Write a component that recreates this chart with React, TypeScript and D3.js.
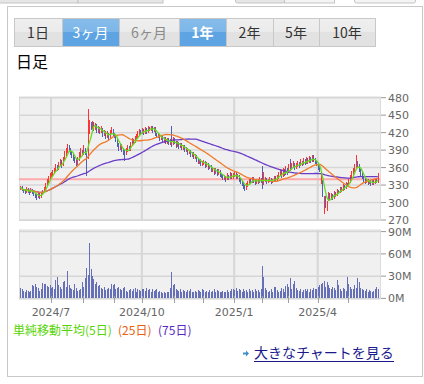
import React from 'react';
import * as d3 from 'd3';

const closes = [
  326,322,320,318,323,320,318,322,317,315,
  312,309,314,310,316,318,324,330,336,342,
  346,348,352,356,362,358,366,370,364,374,
  382,388,396,392,386,380,376,372,368,374,
  382,388,384,392,386,376,420,434,430,436,
  428,432,424,428,422,426,418,420,414,418,
  412,420,424,418,414,408,400,394,398,392,
  386,384,390,394,392,400,406,404,410,414,
  418,422,420,424,420,426,422,428,426,430,
  424,428,418,414,416,410,412,406,410,404,
  408,402,406,400,408,404,398,402,396,400,
  394,396,390,392,386,388,382,384,378,380,
  374,370,372,366,368,370,364,366,360,362,
  356,358,352,356,350,354,348,346,342,344,
  340,346,342,348,344,346,350,344,346,340,
  336,332,328,324,330,334,338,336,340,338,
  334,338,336,340,338,336,338,340,336,338,
  340,336,338,342,340,344,348,352,346,354,
  350,356,352,360,358,362,366,360,364,368,
  364,370,366,372,368,374,370,376,372,378,
  374,370,366,360,356,342,314,306,294,298,
  314,308,312,308,316,314,320,318,324,322,
  328,326,332,330,336,344,350,356,362,368,
  364,356,350,344,340,336,338,334,336,332,
  336,334,338,336,346,
];

const opens = [
  324,326,322,320,318,323,320,318,322,317,
  315,312,309,314,310,316,318,324,330,336,
  342,346,348,352,356,362,358,366,370,364,
  374,382,388,396,392,386,380,376,372,368,
  374,382,388,384,392,386,378,422,434,430,
  436,428,432,424,428,422,426,418,420,414,
  418,412,420,424,418,414,408,400,394,398,
  392,386,384,390,394,392,400,406,404,410,
  414,418,422,420,424,420,426,422,428,426,
  430,424,428,418,414,416,410,412,406,410,
  404,408,402,406,400,408,404,398,402,396,
  400,394,396,390,392,386,388,382,384,378,
  380,374,370,372,366,368,370,364,366,360,
  362,356,358,352,356,350,354,348,346,342,
  344,340,346,342,348,344,346,350,344,346,
  340,336,332,328,324,330,334,338,336,340,
  338,334,338,336,340,344,336,338,340,336,
  338,340,336,338,342,340,344,348,352,346,
  354,350,356,352,360,358,362,366,360,364,
  368,364,370,366,372,368,374,370,376,372,
  378,374,370,366,360,338,336,290,308,292,
  306,314,308,312,308,316,314,320,318,324,
  322,328,326,332,330,336,344,350,356,362,
  368,364,356,350,344,340,336,338,334,336,
  332,336,334,338,336,
];

const highs = [
  329,328,324,322,326,325,322,325,324,319,
  317,314,316,316,318,321,327,333,340,346,
  350,353,356,360,366,365,370,375,373,378,
  388,394,401,399,394,389,384,378,375,378,
  386,394,391,398,394,388,460,442,438,440,
  438,436,434,432,430,431,428,424,422,422,
  420,425,429,426,420,416,410,403,402,400,
  394,390,394,398,397,404,410,409,414,418,
  422,426,425,428,426,430,428,431,430,432,
  432,430,429,420,419,418,415,414,413,412,
  411,410,409,432,412,410,406,405,404,403,
  402,399,398,395,394,391,390,387,386,383,
  382,376,375,374,371,373,372,369,368,365,
  364,361,360,359,358,357,356,351,348,347,
  346,350,348,352,350,350,354,352,349,348,
  342,338,334,330,333,337,341,341,343,343,
  340,341,341,343,342,362,352,343,342,341,
  343,342,341,346,345,348,352,358,355,360,
  357,362,359,366,375,368,372,368,368,372,
  370,374,372,376,374,378,376,380,378,382,
  382,377,372,368,362,350,338,312,312,302,
  318,316,316,314,319,318,323,322,327,326,
  331,330,335,334,340,348,354,360,366,382,
  371,366,358,352,346,342,341,340,339,338,
  339,338,341,340,350,
];

const lows = [
  321,319,316,315,316,317,313,316,314,311,
  308,305,307,306,308,313,316,322,328,334,
  339,343,345,349,353,354,356,362,360,362,
  371,379,385,388,382,376,372,368,362,365,
  371,379,380,381,382,346,374,418,424,427,
  423,424,419,420,417,419,413,414,409,411,
  408,410,417,414,410,404,395,389,390,387,
  381,372,381,386,388,389,397,400,402,407,
  411,415,416,417,416,418,418,420,422,423,
  420,421,414,410,411,406,407,402,403,400,
  401,398,399,396,398,400,394,395,392,393,
  390,391,386,387,382,383,378,379,374,375,
  370,366,367,362,363,365,360,361,356,357,
  352,353,348,349,346,347,344,342,338,339,
  336,338,338,340,340,341,343,340,341,336,
  332,328,324,320,322,327,331,332,333,334,
  330,331,332,333,334,324,330,335,332,333,
  335,332,333,335,336,337,341,345,342,344,
  346,348,348,350,354,355,359,356,357,361,
  360,362,362,364,364,366,366,368,368,370,
  370,366,362,356,352,332,310,280,290,286,
  302,304,305,304,306,310,312,314,316,318,
  320,322,324,326,328,334,341,347,353,359,
  360,352,346,340,336,332,333,330,331,329,
  330,330,331,333,334,
];

const volumes = [
  14,12,10,9,11,10,9,10,18,17,
  20,16,14,10,12,21,19,20,17,16,
  18,14,15,13,25,29,18,15,13,22,
  24,16,37,18,14,12,11,20,14,10,
  11,12,22,16,27,41,32,75,40,30,
  26,20,22,17,18,14,12,16,11,13,
  14,12,20,18,19,13,14,16,12,11,
  14,15,10,9,11,13,10,12,14,9,
  12,11,10,13,12,10,14,11,13,9,
  12,10,11,12,9,10,8,7,8,7,
  8,9,14,35,18,20,12,11,10,12,
  9,11,10,9,11,10,12,9,8,10,
  9,11,10,8,12,11,9,10,8,11,
  9,10,12,9,11,10,8,9,10,8,
  9,11,8,10,12,13,11,14,10,12,
  11,9,13,10,11,9,12,10,11,9,
  12,10,11,9,12,44,29,14,11,9,
  10,12,8,16,15,11,9,10,14,12,
  9,17,20,15,27,13,20,23,14,11,
  10,12,9,11,13,10,12,9,13,11,
  14,12,13,15,18,20,21,23,16,22,
  18,14,12,16,14,11,25,18,12,10,
  14,12,10,29,20,16,12,13,18,14,
  28,22,14,12,11,10,12,9,11,10,
  8,10,12,15,13,
];

const priceTicks = [270, 300, 330, 360, 390, 420, 450, 480];
const volTicks = [0, 30, 60, 90];
const volTickLabels = ['0M', '30M', '60M', '90M'];
const monthTickIdx = [21, 43, 64, 83, 105, 125, 146, 165, 183, 203, 224];
const quarterIdx = [21, 83, 146, 203];
const quarterLabels = ['2024/7', '2024/10', '2025/1', '2025/4'];
const refPrice = 340;
const maPeriods = [75, 25, 5];
const maColors = ['#6a3cc8', '#f07a2a', '#62dc1e'];
const tabLabels = ['1日', '3ヶ月', '6ヶ月', '1年', '2年', '5年', '10年'];
const tabState = ['normal', 'blue', 'disabled', 'active', 'normal', 'normal', 'normal'];
const tabEdges = [14, 62, 119, 179, 226, 273, 319, 375];

function sma(vals: number[], n: number): number[] {
  return vals.map((_, i) => {
    const s = Math.max(0, i - n + 1);
    return d3.mean(vals.slice(s, i + 1)) as number;
  });
}

const FONT_AXIS = '"DejaVu Sans", sans-serif';
const FONT_JP = '"Noto Sans CJK JP", "Noto Sans", sans-serif';

export default function App() {
  const W = 424, H = 384;
  const n = closes.length;
  const x = d3.scaleLinear().domain([0, n - 1]).range([20.2, 377.8]);
  const y = d3.scaleLinear().domain([270, 480]).range([220, 97.7]);
  const yv = d3.scaleLinear().domain([0, 90]).range([298.4, 231.6]);
  const pL = 19, pR = 380;

  const line = d3.line<number>().x((_, i) => x(i)).y((d) => y(d));
  const mas = maPeriods.map((p) => sma(closes, p));

  const up = '#ff3333', down = '#5060b4';

  return (
    <div style={{ position: 'absolute', left: 0, top: 0 }}>
      <svg width={W} height={H} style={{ display: 'block' }}>
        <defs>
          <linearGradient id="gGray" x1="0" y1="0" x2="0" y2="1">
            <stop offset="0" stopColor="#efefef" />
            <stop offset="0.5" stopColor="#ebebeb" />
            <stop offset="0.5" stopColor="#e2e2e2" />
            <stop offset="1" stopColor="#e2e2e2" />
          </linearGradient>
          <linearGradient id="gBlue" x1="0" y1="0" x2="0" y2="1">
            <stop offset="0" stopColor="#86bcea" />
            <stop offset="0.5" stopColor="#7cb6e8" />
            <stop offset="0.5" stopColor="#5ea4e2" />
            <stop offset="1" stopColor="#5ea4e2" />
          </linearGradient>
        </defs>
        <rect x={0} y={0} width={W} height={H} fill="#ffffff" />
        {/* partial tabs at very top */}
        <g fill="#e6e6e6" stroke="#c4c4c4">
          <rect x={-1} y={-6} width={79} height={9} />
          <rect x={78} y={-6} width={85} height={9} />
          <rect x={235.5} y={-6} width={49} height={9} rx={2} />
          <rect x={284.5} y={-6} width={50} height={9} fill="#f4f4f4" />
          <rect x={354.5} y={-6} width={61} height={9} rx={2} fill="#f4f4f4" />
        </g>
        {/* outer panel */}
        <rect x={7.5} y={6.5} width={415} height={370} fill="#ffffff" stroke="#c8c8c8" />

        {/* period tabs */}
        {tabLabels.map((t, i) => {
          const x0 = tabEdges[i], x1 = tabEdges[i + 1];
          const st = tabState[i];
          const fill = st === 'blue' || st === 'active' ? 'url(#gBlue)' : 'url(#gGray)';
          const color = st === 'blue' || st === 'active' ? '#ffffff' : st === 'disabled' ? '#8a8a8a' : '#333333';
          return (
            <g key={t}>
              <rect x={x0 + 0.5} y={18.5} width={x1 - x0} height={28} fill={fill} stroke="#c8c8c8" />
              <text x={(x0 + x1) / 2} y={38} textAnchor="middle" fontFamily={FONT_JP} fontSize={14}
                fontWeight={st === 'active' ? 'bold' : 'normal'} fill={color}>{t}</text>
            </g>
          );
        })}

        <text x={16} y={68} fontFamily={FONT_JP} fontSize={16} fill="#000">日足</text>

        {/* price panel */}
        <rect x={pL + 0.5} y={97} width={pR - pL} height={123.5} fill="#f0f0f0" stroke="#dcdcdc" />
        {priceTicks.map((t) => (
          <g key={'p' + t}>
            <line x1={pL} x2={pR} y1={y(t)} y2={y(t)} stroke="#d6d6d6" strokeWidth={1.5} />
            <line x1={pR + 1} x2={pR + 6} y1={y(t)} y2={y(t)} stroke="#999" />
            <text x={388} y={y(t) + 4} fontFamily={FONT_AXIS} fontSize={11} fill="#666">{t}</text>
          </g>
        ))}
        {quarterIdx.map((q) => (
          <line key={'vq' + q} x1={x(q)} x2={x(q)} y1={97} y2={220.5} stroke="#d6d6d6" strokeWidth={2} />
        ))}
        <line x1={pL} x2={pR} y1={y(refPrice)} y2={y(refPrice)} stroke="#ffaaaa" strokeWidth={2} />

        {/* candles */}
        <g shapeRendering="crispEdges">
          {closes.map((c, i) => {
            const o = opens[i];
            const col = c >= o ? up : down;
            const xc = Math.round(x(i));
            const top = y(Math.max(o, c));
            const bot = y(Math.min(o, c));
            return (
              <g key={'c' + i}>
                <rect x={xc} y={y(highs[i])} width={1} height={Math.max(1, y(lows[i]) - y(highs[i]))} fill={col} />
                <rect x={xc - 0.5} y={top} width={1.5} height={Math.max(1, bot - top)} fill={col} />
              </g>
            );
          })}
        </g>

        {/* moving averages */}
        {mas.map((m, k) => (
          <path key={'ma' + k} d={line(m) || ''} fill="none" stroke={maColors[k]} strokeWidth={1.3} />
        ))}

        {/* volume panel */}
        <rect x={pL + 0.5} y={230} width={pR - pL} height={69} fill="#f0f0f0" stroke="#dcdcdc" />
        {volTicks.map((t, i) => (
          <g key={'v' + t}>
            <line x1={pL} x2={pR} y1={yv(t)} y2={yv(t)} stroke="#d6d6d6" strokeWidth={1.5} />
            <line x1={pR + 1} x2={pR + 6} y1={yv(t)} y2={yv(t)} stroke="#999" />
            <text x={388} y={yv(t) + 4} fontFamily={FONT_AXIS} fontSize={11} fill="#666">{volTickLabels[i]}</text>
          </g>
        ))}
        {quarterIdx.map((q) => (
          <line key={'vv' + q} x1={x(q)} x2={x(q)} y1={230} y2={299} stroke="#d6d6d6" strokeWidth={2} />
        ))}
        <g shapeRendering="crispEdges">
          {volumes.map((v, i) => (
            <rect key={'vb' + i} x={Math.round(x(i))} y={yv(v)} width={1} height={yv(0) - yv(v)} fill="#6670b8" />
          ))}
        </g>
        {monthTickIdx.map((m) => (
          <line key={'mt' + m} x1={Math.round(x(m)) + 0.5} x2={Math.round(x(m)) + 0.5} y1={296} y2={303} stroke="#a0a0a0" />
        ))}
        {quarterIdx.map((q, i) => (
          <text key={'ql' + q} x={x(q)} y={315.5} textAnchor="middle" fontFamily={FONT_AXIS} fontSize={11} fill="#666">{quarterLabels[i]}</text>
        ))}

        {/* legend */}
        <text y={335} fontFamily={FONT_JP} fontSize={12}>
          <tspan x={13} fill="#55d400">単純移動平均(5日)</tspan>
          <tspan x={118} fill="#e8600e">(25日)</tspan>
          <tspan x={158} fill="#5a28c0">(75日)</tspan>
        </text>

        {/* link */}
        <path d="M243,352.5 L246,352.5 L246,350.5 L249,353.5 L246,356.5 L246,354.5 L243,354.5 Z" fill="#3d8fd0" />
        <text x={254} y={358} fontFamily={FONT_JP} fontSize={14} fill="#1a1a8c">大きなチャートを見る</text>
        <line x1={254} x2={394} y1={361.5} y2={361.5} stroke="#1a1a8c" strokeWidth={1} />
      </svg>
    </div>
  );
}
